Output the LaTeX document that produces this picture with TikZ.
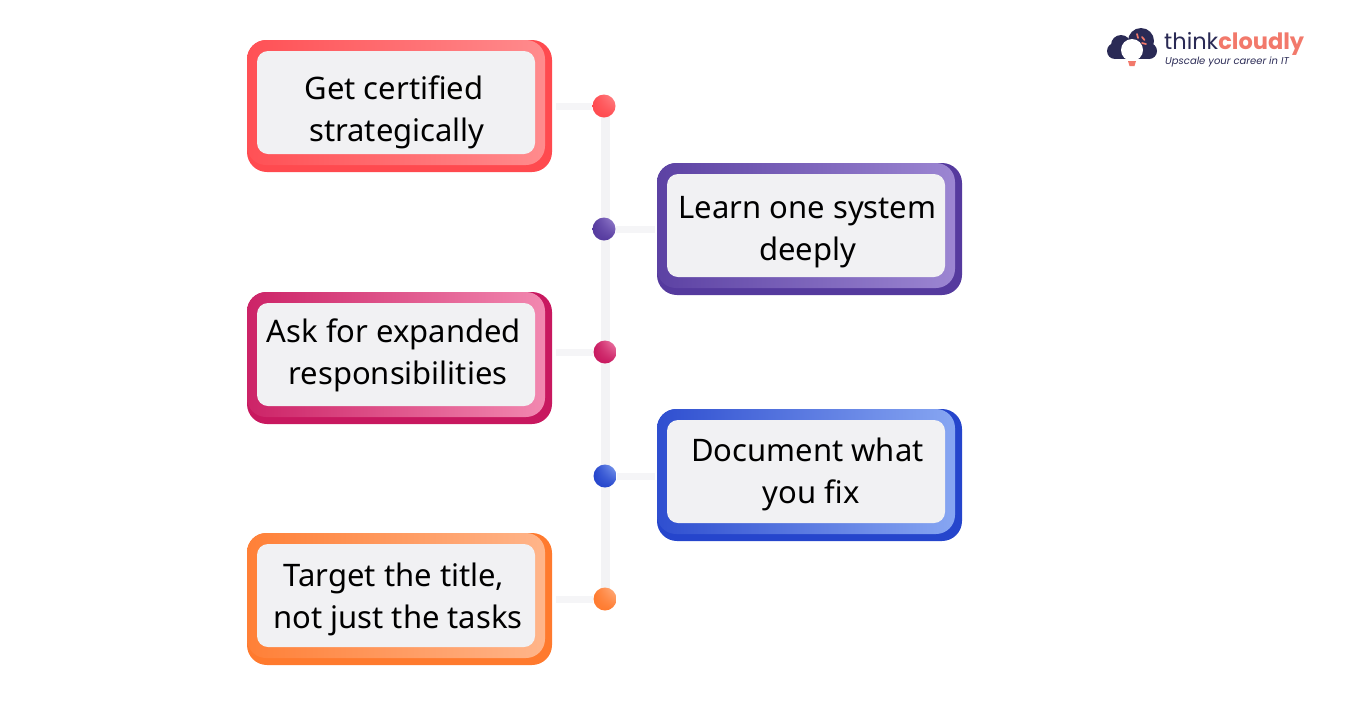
\documentclass[tikz,border=0pt]{standalone}
\usepackage{fontspec}
\setmainfont{Noto Sans}
\newfontfamily\logofont{Poppins}
\usetikzlibrary{positioning,calc,shadings}

\definecolor{spinegray}{HTML}{F3F3F5}
\definecolor{branchgray}{HTML}{F5F5F7}
\definecolor{paneltint}{HTML}{F1F1F3}
\definecolor{logonavy}{HTML}{2A2A55}
\definecolor{logocoral}{HTML}{F2796B}
\definecolor{reddark}{HTML}{FF4A4F}
\definecolor{redlight}{HTML}{FF8B8D}
\definecolor{purpledark}{HTML}{553A9E}
\definecolor{purplelight}{HTML}{9C86D2}
\definecolor{pinkdark}{HTML}{C8185F}
\definecolor{pinklight}{HTML}{F288B0}
\definecolor{bluedark}{HTML}{2545CC}
\definecolor{bluelight}{HTML}{87A6F2}
\definecolor{orangedark}{HTML}{FF7A2E}
\definecolor{orangelight}{HTML}{FFB58A}

\begin{document}
\begin{tikzpicture}[x=1pt, y=-1pt,
    card base/.style={rectangle, rounded corners=20pt, minimum width=305pt, minimum height=132pt, inner sep=0pt},
    card face/.style={rectangle, rounded corners=19pt, minimum width=298pt, minimum height=125pt, inner sep=0pt},
    card panel/.style={rectangle, rounded corners=11pt, fill=paneltint, minimum width=278pt, minimum height=103pt, inner sep=0pt},
    card text/.style={inner sep=0pt, align=center, text=black, font=\fontsize{31}{42}\selectfont},
    tip dot/.style={circle, minimum size=23pt, inner sep=0pt},
    tip line/.style={draw=branchgray, line width=7pt},
    logo blob/.style={fill=logonavy, draw=none},
    logo ray/.style={draw=logocoral, line width=1.7pt, line cap=round}]

    \useasboundingbox (0,0) rectangle (1350,705);

    % spine
    \coordinate (spinetop) at (605,106);
    \coordinate (spineend) at (605,599);
    \draw [draw=spinegray, line width=9pt] (spinetop) -- (spineend);

    % left column
    \node [card base, fill=reddark] (getbase) at (399.5,106) {};
    \node [card face, left color=reddark!90!redlight, right color=redlight, anchor=north west] (getface) at (getbase.north west) {};
    \node [card panel] (get) at (396,102.5) {};
    \node [card text] (gettext) at ($(get)+(-2,10)$) {Get certified\\\hspace*{6pt}strategically};

    \node [card base, fill=pinkdark] (askbase) at (399.5,358) {};
    \node [card face, left color=pinkdark!90!pinklight, right color=pinklight, anchor=north west] (askface) at (askbase.north west) {};
    \node [card panel] (ask) at (396,354.5) {};
    \node [card text] (asktext) at ($(ask)+(-2,1)$) {Ask for expanded\\\hspace*{8pt}responsibilities};

    \node [card base, fill=orangedark] (targetbase) at (399.5,599) {};
    \node [card face, left color=orangedark!90!orangelight, right color=orangelight, anchor=north west] (targetface) at (targetbase.north west) {};
    \node [card panel] (target) at (396,595.5) {};
    \node [card text] (targettext) at ($(target)+(-2,4)$) {Target the title,\\\hspace*{8pt}not just the tasks};

    % right column
    \node [card base, fill=purpledark] (learnbase) at (809.5,229) {};
    \node [card face, left color=purpledark!90!purplelight, right color=purplelight, anchor=north west] (learnface) at (learnbase.north west) {};
    \node [card panel] (learn) at (806,225.5) {};
    \node [card text] (learntext) at ($(learn)+(1.5,6.5)$) {Learn one system\\deeply};

    \node [card base, fill=bluedark] (docbase) at (809.5,475) {};
    \node [card face, left color=bluedark!90!bluelight, right color=bluelight, anchor=north west] (docface) at (docbase.north west) {};
    \node [card panel] (doc) at (806,471.5) {};
    \node [card text] (doctext) at ($(doc)+(1.5,3)$) {Document what\\\hspace*{7pt}you fix};

    % dots
    \node [tip dot] (dotget) at (604,106) {};
    \node [tip dot] (dotlearn) at (604,229) {};
    \node [tip dot] (dotask) at (605,352) {};
    \node [tip dot] (dotdoc) at (605,476) {};
    \node [tip dot] (dottarget) at (605,599) {};

    \draw [tip line, shorten <=4pt] (getbase.east |- dotget) -- (dotget);
    \draw [tip line, shorten <=2pt] (learnbase.west |- dotlearn) -- (dotlearn);
    \draw [tip line, shorten <=4pt] (askbase.east |- dotask) -- (dotask);
    \draw [tip line, shorten <=2pt] (docbase.west |- dotdoc) -- (dotdoc);
    \draw [tip line, shorten <=4pt] (targetbase.east |- dottarget) -- (dottarget);

    \node [tip dot, lower left=reddark, lower right=reddark, upper left=reddark, upper right=redlight] at (dotget) {};
    \node [tip dot, lower left=purpledark, lower right=purpledark, upper left=purpledark, upper right=purplelight] at (dotlearn) {};
    \node [tip dot, lower left=pinkdark, lower right=pinkdark, upper left=pinkdark, upper right=pinklight] at (dotask) {};
    \node [tip dot, lower left=bluedark, lower right=bluedark, upper left=bluedark, upper right=bluelight] at (dotdoc) {};
    \node [tip dot, lower left=orangedark, lower right=orangedark, upper left=orangedark, upper right=orangelight] at (dottarget) {};

    % logo
    \fill [logo blob] (1141,41) circle (13pt);
    \fill [logo blob] (1121,45) circle (10pt);
    \fill [logo blob] (1115,51) circle (8pt);
    \fill [logo blob] (1149,51) circle (8pt);
    \fill [logo blob] (1115,44) rectangle (1149,59);
    \fill [white] (1132,50) circle (11pt);
    \fill [white] (1124,54) -- (1140,54) -- (1136,62) -- (1128,62) -- cycle;
    \fill [logocoral] (1128,61) -- (1136,61) -- (1134.5,66) -- (1129.5,66) -- cycle;
    \draw [logo ray] (1137,34) -- (1138,38);
    \draw [logo ray] (1142,37) -- (1144.5,40);
    \draw [logo ray] (1142,43) -- (1146,44);
    \node [anchor=west, inner sep=0pt, font=\logofont\fontsize{22.5}{25}\selectfont] (logoname) at (1164,44) {\textcolor{logonavy}{think}\textcolor{logocoral}{\bfseries cloudly}};
    \node [anchor=west, inner sep=0pt, text=logonavy, font=\logofont\itshape\fontsize{10}{11}\selectfont] (logotag) at (1165,61.5) {Upscale your career in IT};

\end{tikzpicture}
\end{document}
